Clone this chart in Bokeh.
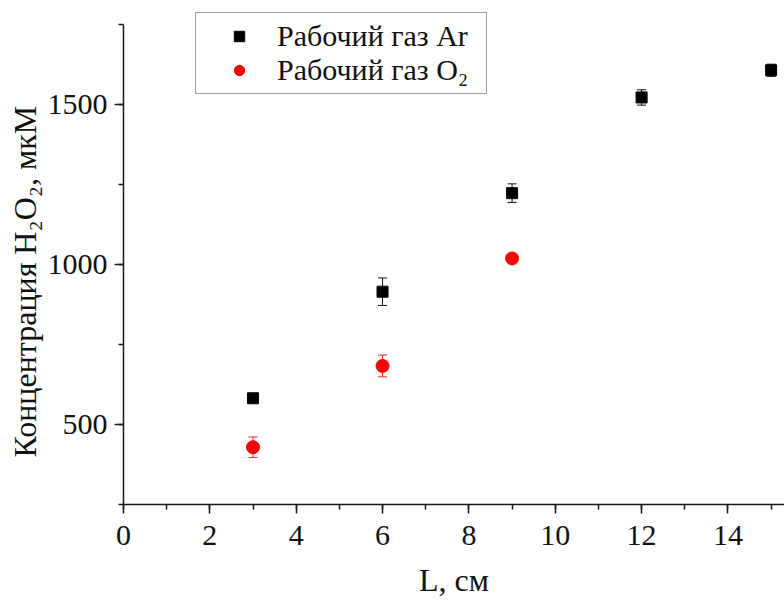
from bokeh.plotting import figure
from bokeh.models import (ColumnDataSource, Whisker, TeeHead, Legend, LegendItem,
                          SingleIntervalTicker, Range1d, Title)
from bokeh.embed import file_html
from bokeh.resources import INLINE

# ---- data ----
L_ar = [3, 6, 9, 12, 15]
c_ar = [582, 915, 1223, 1522, 1607]
err_ar = [8, 43, 29, 24, 19]

L_o2 = [3, 6, 9]
c_o2 = [429, 683, 1019]
err_o2 = [32, 34, 8]

label_ar = "Рабочий газ Ar"
label_o2 = "Рабочий газ O₂"
x_label = "L, см"
y_label = "Концентрация H₂O₂, мкМ"

x_ticks_interval = 2
y_ticks_interval = 500
y_axis_bounds = (250, 1750)

FONT = "Liberation Serif"

src_ar = ColumnDataSource(dict(x=L_ar, y=c_ar,
                               upper=[v + e for v, e in zip(c_ar, err_ar)],
                               lower=[v - e for v, e in zip(c_ar, err_ar)]))
src_o2 = ColumnDataSource(dict(x=L_o2, y=c_o2,
                               upper=[v + e for v, e in zip(c_o2, err_o2)],
                               lower=[v - e for v, e in zip(c_o2, err_o2)]))

p = figure(width=784, height=601, output_backend="svg", toolbar_location=None,
           x_range=Range1d(0, 15.31), y_range=Range1d(250, 1825),
           min_border_left=123, min_border_right=0, min_border_top=0,
           min_border_bottom=97)
p.outline_line_color = None
p.xgrid.visible = False
p.ygrid.visible = False
p.background_fill_color = "white"
p.border_fill_color = "white"

for ax in (p.xaxis[0], p.yaxis[0]):
    ax.axis_line_color = "#1a1a1a"
    ax.axis_line_width = 1.5
    ax.major_tick_line_color = "#1a1a1a"
    ax.minor_tick_line_color = "#1a1a1a"
    ax.major_tick_line_width = 1.5
    ax.minor_tick_line_width = 1.5
    ax.major_tick_in = 0
    ax.major_tick_out = 9
    ax.minor_tick_in = 0
    ax.minor_tick_out = 5
    ax.major_label_text_font = FONT
    ax.major_label_text_font_size = "30px"
    ax.major_label_text_color = "#111111"
    ax.axis_label_text_font = FONT
    ax.axis_label_text_font_size = "32px"
    ax.axis_label_text_font_style = "normal"
    ax.axis_label_text_color = "#111111"

p.xaxis.ticker = SingleIntervalTicker(interval=x_ticks_interval, num_minor_ticks=2)
p.yaxis.ticker = SingleIntervalTicker(interval=y_ticks_interval, num_minor_ticks=2)
p.yaxis.bounds = y_axis_bounds
p.xaxis.axis_label = x_label
p.xaxis.major_label_standoff = 12
p.yaxis.major_label_standoff = 7
p.xaxis.axis_label_standoff = 14

ytitle = Title(text=y_label, align="left", offset=47, standoff=4,
               text_font=FONT, text_font_size="32px", text_font_style="normal",
               text_color="#111111")
p.add_layout(ytitle, "left")

w_ar = Whisker(base="x", upper="upper", lower="lower", source=src_ar,
               line_color="#111111", line_width=1,
               upper_head=TeeHead(size=9, line_color="#111111", line_width=1),
               lower_head=TeeHead(size=9, line_color="#111111", line_width=1))
w_o2 = Whisker(base="x", upper="upper", lower="lower", source=src_o2,
               line_color="#ff2020", line_width=1,
               upper_head=TeeHead(size=9, line_color="#ff2020", line_width=1),
               lower_head=TeeHead(size=9, line_color="#ff2020", line_width=1))
p.add_layout(w_ar)
p.add_layout(w_o2)

r_ar = p.scatter("x", "y", source=src_ar, marker="square", size=11,
                 fill_color="black", line_color="black")
r_o2 = p.scatter("x", "y", source=src_o2, marker="circle", size=13,
                 fill_color="#ff0000", line_color="#ff0000")

legend = Legend(items=[LegendItem(label=label_ar, renderers=[r_ar]),
                       LegendItem(label=label_o2, renderers=[r_o2])],
                location=(72, 410))
legend.label_text_font = FONT
legend.label_text_font_size = "30px"
legend.label_text_color = "#111111"
legend.border_line_color = "#444444"
legend.border_line_width = 1
legend.background_fill_color = "white"
legend.background_fill_alpha = 1
legend.padding = 6
legend.spacing = 0
legend.margin = 0
legend.glyph_width = 74
legend.glyph_height = 26
legend.label_height = 33
legend.label_width = 203
legend.label_standoff = 1
p.add_layout(legend)

open("out.html", "w").write(file_html(p, INLINE))
